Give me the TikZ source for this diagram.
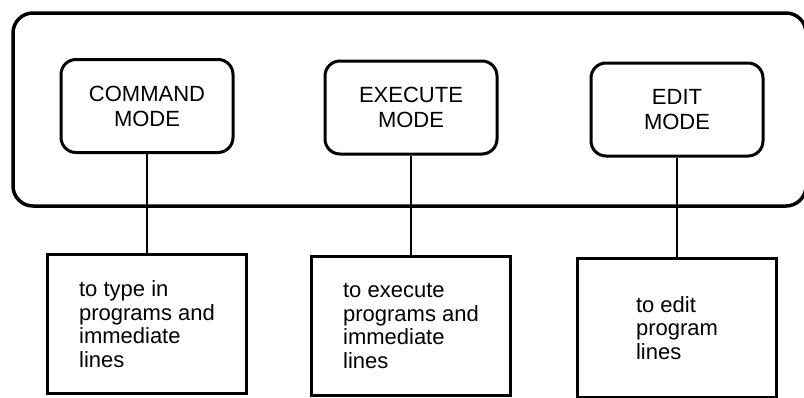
\documentclass[tikz,border=0pt]{standalone}
\usepackage{fontspec}
\setmainfont{Liberation Sans}
\begin{document}
\begin{tikzpicture}[x=1pt,y=-1pt,
  outerframe/.style={draw, line width=3.5pt, rounded corners=20pt, minimum width=793pt, minimum height=193pt, inner sep=0pt},
  modebox/.style={draw, line width=3pt, rounded corners=15pt, minimum width=172pt, minimum height=93pt, align=center, font=\fontsize{22}{25}\selectfont, inner sep=0pt},
  descbox/.style={draw, line width=2.8pt, minimum width=199pt, minimum height=139pt, align=left, font=\fontsize{22}{23.7}\selectfont, inner sep=0pt},
  link/.style={line width=2pt}]
\useasboundingbox (0,0) rectangle (804,397);
\node[outerframe] (frame) at (409.5,109.5) {};
\node[modebox] (cmd) at (147,106) {COMMAND\\MODE};
\node[modebox] (exe) at (411,107.5) {EXECUTE\\MODE};
\node[modebox] (edit) at (677,109.5) {EDIT\\MODE};
\node[descbox] (d1) at (147,324) {to type in\\programs and\\immediate\\lines};
\node[descbox] (d2) at (411,326) {to execute\\programs and\\immediate\\lines};
\node[descbox] (d3) at (677,328) {to edit\\program\\lines};
\draw[link] (cmd.south) -- (d1.north);
\draw[link] (exe.south) -- (d2.north);
\draw[link] (edit.south) -- (d3.north);
\end{tikzpicture}
\end{document}
